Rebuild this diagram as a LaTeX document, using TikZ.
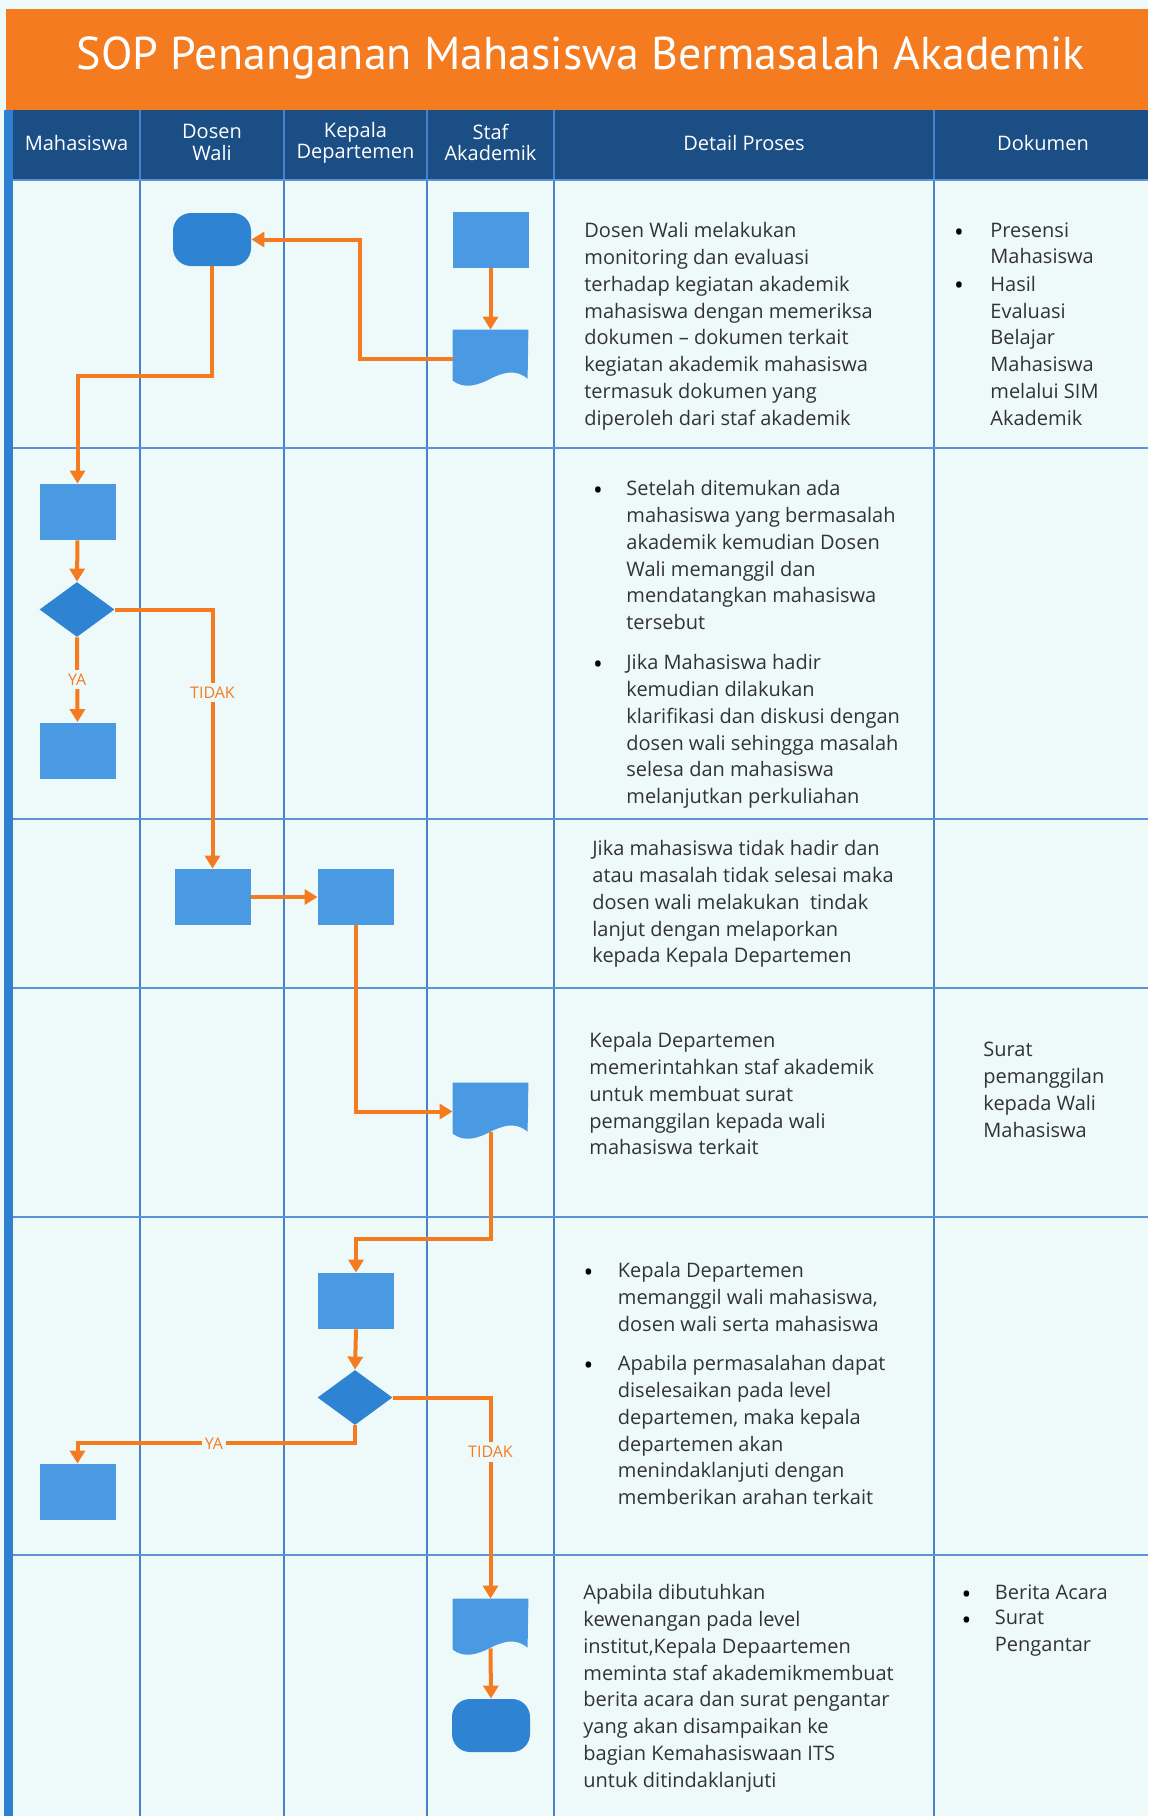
\documentclass[tikz,border=0pt]{standalone}
\usepackage{fontspec}
\setmainfont{Open Sans}
\newfontfamily\titlefont{PT Sans}
\usetikzlibrary{shapes.geometric, arrows.meta, calc}

\definecolor{bgc}{HTML}{EEFAFA}
\definecolor{titleor}{HTML}{F47B20}
\definecolor{headc}{HTML}{1A4E85}
\definecolor{barc}{HTML}{2F80D0}
\definecolor{gridc}{HTML}{4A80CA}
\definecolor{rowc}{HTML}{5E92D6}
\definecolor{boxc}{HTML}{4A9AE3}
\definecolor{termc}{HTML}{2E84D2}
\definecolor{orc}{HTML}{F47B20}
\definecolor{txtc}{HTML}{333333}

\newcommand\bodyf{\fontsize{10}{13.4}\selectfont}
\newcommand\docfill[1]{%
  \fill[boxc] (#1.north west) -- (#1.north east)
    -- ($(#1.north west)+(75,49)$)
    .. controls ($(#1.north west)+(65,41)$) and ($(#1.north west)+(55,41)$) .. ($(#1.north west)+(40,48)$)
    .. controls ($(#1.north west)+(25,56)$) and ($(#1.north west)+(12,60)$) .. ($(#1.north west)+(0,51)$)
    -- cycle;}

\begin{document}
\begin{tikzpicture}[x=0.5pt,y=-0.5pt,
  procbox/.style={rectangle, fill=boxc, minimum width=38pt, minimum height=28pt, inner sep=0pt},
  termbox/.style={rectangle, rounded corners=9pt, fill=termc, minimum width=39pt, minimum height=26.5pt, inner sep=0pt},
  decis/.style={diamond, fill=termc, minimum width=37.5pt, minimum height=27.5pt, inner sep=0pt},
  docbox/.style={rectangle, minimum width=37.5pt, minimum height=28.5pt, inner sep=0pt},
  flow/.style={draw=orc, line width=2pt, -{Triangle[length=6.5pt,width=7.5pt]}},
  lbl/.style={fill=bgc, text=orc, font=\fontsize{8}{9}\selectfont, inner xsep=1.5pt, inner ysep=2pt},
  hdr/.style={text=white, align=center, font=\fontsize{10}{10.7}\selectfont, inner sep=0pt},
  txt/.style={anchor=north west, align=left, inner sep=0pt, font=\bodyf, text=txtc},
  bul/.style={anchor=base, inner sep=0pt, font=\fontsize{13}{13}\selectfont, text=black},
  colline/.style={draw=gridc, line width=0.8pt},
  rowline/.style={draw=rowc, line width=1.3pt}
]
\useasboundingbox (0,0) rectangle (1148,1816);
\fill[bgc] (0,0) rectangle (1148,1816);

% title band
\fill[titleor] (6,9) rectangle (1148,110);
\node[text=white, font=\titlefont\fontsize{23}{26}\selectfont, inner sep=0pt] (title) at (581,58) {SOP Penanganan Mahasiswa Bermasalah Akademik};

% header band
\fill[headc] (9,110) rectangle (1148,180);
\fill[barc] (4,110) rectangle (13,1816);

% grid
\foreach \xx in {140,284,427,554,934} \draw[colline] (\xx,110) -- (\xx,1816);
\foreach \yy in {180,448,819,988,1217,1555} \draw[rowline] (13,\yy) -- (1148,\yy);

% header texts
\node[hdr] (h1) at (76.5,142.5) {Mahasiswa};
\node[hdr] (h2) at (212,142.5) {Dosen\\Wali};
\node[hdr] (h3) at (355.5,142.5) {Kepala\\Departemen};
\node[hdr] (h4) at (490.5,142.5) {Staf\\Akademik};
\node[hdr] (h5) at (744,142.5) {Detail Proses};
\node[hdr] (h6) at (1043,142.5) {Dokumen};

% shapes
\node[termbox] (t1) at (212,239.5) {};
\node[procbox] (s1) at (490.5,240) {};
\node[docbox] (d1) at (490.5,358.5) {};
\docfill{d1}
\node[procbox] (m1) at (77.5,512) {};
\node[decis] (q1) at (77,609.5) {};
\node[procbox] (m2) at (77.5,750.5) {};
\node[procbox] (w2) at (212.5,897) {};
\node[procbox] (k1) at (356,897) {};
\node[docbox] (d2) at (490.5,1111.5) {};
\docfill{d2}
\node[procbox] (k2) at (356,1301) {};
\node[decis] (q2) at (355,1397.5) {};
\node[procbox] (m3) at (77.5,1492) {};
\node[docbox] (d3) at (490.5,1627.5) {};
\docfill{d3}
\node[termbox] (t2) at (491,1725.5) {};

% connectors
\draw[flow] (s1.south) -- (d1.north);
\draw[flow] (d1.west) -- ++(-93,0) |- (t1.east);
\draw[flow] (t1.south) -- ++(0,110) -| (m1.north);
\draw[flow] (m1.south) -- (q1.north);
\draw[flow] (q1.south) -- node[lbl] (ya1) {YA} (m2.north);
\draw[flow] (q1.east) -| node[lbl, pos=0.66] (no1) {TIDAK} (w2.north);
\draw[flow] (w2.east) -- (k1.west);
\draw[flow] (k1.south) |- (d2.west);
\draw[flow] ([yshift=4pt]d2.south) -- ++(0,107) -| (k2.north);
\draw[flow] (k2.south) -- (q2.north);
\draw[flow] (q2.east) -| node[lbl, pos=0.635] (no2) {TIDAK} (d3.north);
\draw[flow] (q2.south) -- ++(0,18) -| node[lbl, pos=0.254] (ya2) {YA} (m3.north);
\draw[flow] ([yshift=4pt]d3.south) -- (t2.north);

% row 1 texts
\node[txt] (p1) at (584,222) {Dosen Wali melakukan\\monitoring dan evaluasi\\terhadap kegiatan akademik\\mahasiswa dengan memeriksa\\dokumen – dokumen terkait\\kegiatan akademik mahasiswa\\termasuk dokumen yang\\diperoleh dari staf akademik};
\node[bul] (b11) at (959,241) {•};
\node[txt] (k11) at (990,222) {Presensi\\Mahasiswa};
\node[bul] (b12) at (959,294.6) {•};
\node[txt] (k12) at (990,275.6) {Hasil\\Evaluasi\\Belajar\\Mahasiswa\\melalui SIM\\Akademik};

% row 2 texts
\node[bul] (b21) at (598,499) {•};
\node[txt] (p21) at (626,480) {Setelah ditemukan ada\\mahasiswa yang bermasalah\\akademik kemudian Dosen\\Wali memanggil dan\\mendatangkan mahasiswa\\tersebut};
\node[bul] (b22) at (598,673) {•};
\node[txt] (p22) at (626,654) {Jika Mahasiswa hadir\\kemudian dilakukan\\klarifikasi dan diskusi dengan\\dosen wali sehingga masalah\\selesa dan mahasiswa\\melanjutkan perkuliahan};

% row 3 texts
\node[txt] (p3) at (592,840) {Jika mahasiswa tidak hadir dan\\atau masalah tidak selesai maka\\dosen wali melakukan\ \ tindak\\lanjut dengan melaporkan\\kepada Kepala Departemen};

% row 4 texts
\node[txt] (p4) at (589,1032) {Kepala Departemen\\memerintahkan staf akademik\\untuk membuat surat\\pemanggilan kepada wali\\mahasiswa terkait};
\node[txt] (k4) at (983,1042) {Surat\\pemanggilan\\kepada Wali\\Mahasiswa};

% row 5 texts
\node[bul] (b51) at (588.5,1281) {•};
\node[txt] (p51) at (617.5,1262) {Kepala Departemen\\memanggil wali mahasiswa,\\dosen wali serta mahasiswa};
\node[bul] (b52) at (588.5,1374) {•};
\node[txt] (p52) at (617.5,1355) {Apabila permasalahan dapat\\diselesaikan pada level\\departemen, maka kepala\\departemen akan\\menindaklanjuti dengan\\memberikan arahan terkait};

% row 6 texts
\node[txt] (p6) at (583,1584) {Apabila dibutuhkan\\kewenangan pada level\\institut,Kepala Depaartemen\\meminta staf akademikmembuat\\berita acara dan surat pengantar\\yang akan disampaikan ke\\bagian Kemahasiswaan ITS\\untuk ditindaklanjuti};
\node[bul] (b61) at (966.5,1603) {•};
\node[txt] (k61) at (994.5,1584) {Berita Acara};
\node[bul] (b62) at (966.5,1629) {•};
\node[txt] (k62) at (994.5,1610) {Surat\\Pengantar};
\end{tikzpicture}
\end{document}
